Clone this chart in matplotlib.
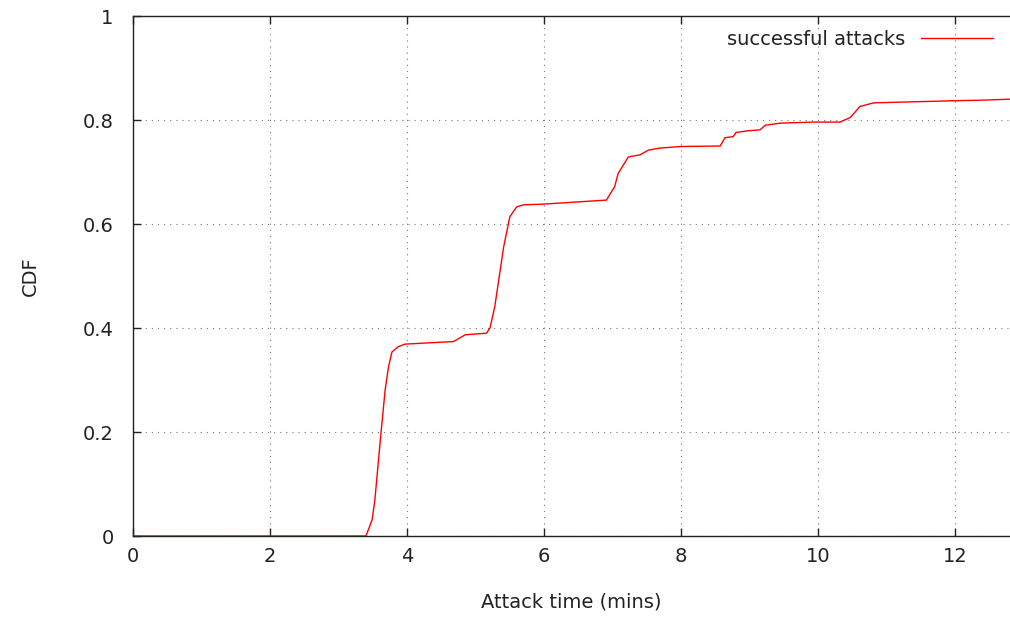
import matplotlib
matplotlib.use('Agg')
from matplotlib import pyplot as plt

# values (attack time in mins, cumulative fraction)
times = [0.0, 3.40, 3.49, 3.53, 3.61, 3.68, 3.73, 3.78, 3.87, 3.97, 4.68, 4.85,
         5.16, 5.21, 5.28, 5.41, 5.50, 5.60, 5.70, 5.96, 6.91, 7.03, 7.08, 7.23,
         7.40, 7.52, 7.69, 7.99, 8.57, 8.64, 8.76, 8.80, 8.96, 9.15, 9.23, 9.45,
         9.93, 10.32, 10.47, 10.61, 10.81, 11.97, 12.36, 12.80]
cdf = [0.0, 0.0, 0.031, 0.069, 0.185, 0.281, 0.326, 0.354, 0.364, 0.369, 0.374, 0.387,
       0.390, 0.400, 0.441, 0.556, 0.614, 0.633, 0.637, 0.638, 0.646, 0.672, 0.697, 0.729,
       0.733, 0.742, 0.746, 0.749, 0.750, 0.766, 0.768, 0.776, 0.779, 0.781, 0.790, 0.794,
       0.796, 0.796, 0.805, 0.826, 0.833, 0.837, 0.838, 0.840]
xticks = [0, 2, 4, 6, 8, 10, 12]
yticks = [0, 0.2, 0.4, 0.6, 0.8, 1]
yticklabels = ['0', '0.2', '0.4', '0.6', '0.8', '1']

plt.rcParams['font.family'] = 'DejaVu Sans'

fig = plt.figure(figsize=(10.1, 6.18), dpi=100)
ax = fig.add_axes([133 / 1010, 82 / 618, 877 / 1010, 520 / 618])

ax.plot(times, cdf, color='#ff0000', lw=1.0, label='successful attacks')

ax.set_xlim(0, 12.80)
ax.set_ylim(0, 1)
ax.set_xticks(xticks)
ax.set_xticklabels([str(t) for t in xticks])
ax.set_yticks(yticks)
ax.set_yticklabels(yticklabels)
ax.tick_params(direction='in', length=6, width=1, labelsize=14, colors='#222222',
               top=True, right=False)
ax.tick_params(axis='y', pad=14)
ax.tick_params(axis='x', pad=8)

ax.grid(True, color='#777777', lw=0.8, linestyle=(0, (1, 4.5)))
ax.spines['right'].set_visible(False)
for s in ['left', 'top', 'bottom']:
    ax.spines[s].set_linewidth(1.0)
    ax.spines[s].set_color('#222222')

ax.set_xlabel('Attack time (mins)', fontsize=14, color='#222222')
ax.set_ylabel('CDF', fontsize=14, color='#222222')
ax.xaxis.set_label_coords(0.5, -0.108)
ax.yaxis.set_label_coords(-0.106, 0.5)

ax.legend(loc='upper right', bbox_to_anchor=((993 - 133) / 877, (536 - 30) / 520),
          frameon=False, markerfirst=False, fontsize=14, borderpad=0,
          borderaxespad=0, handlelength=3.7, handletextpad=0.8,
          labelcolor='#222222')

fig.savefig('out.png', dpi=100)
